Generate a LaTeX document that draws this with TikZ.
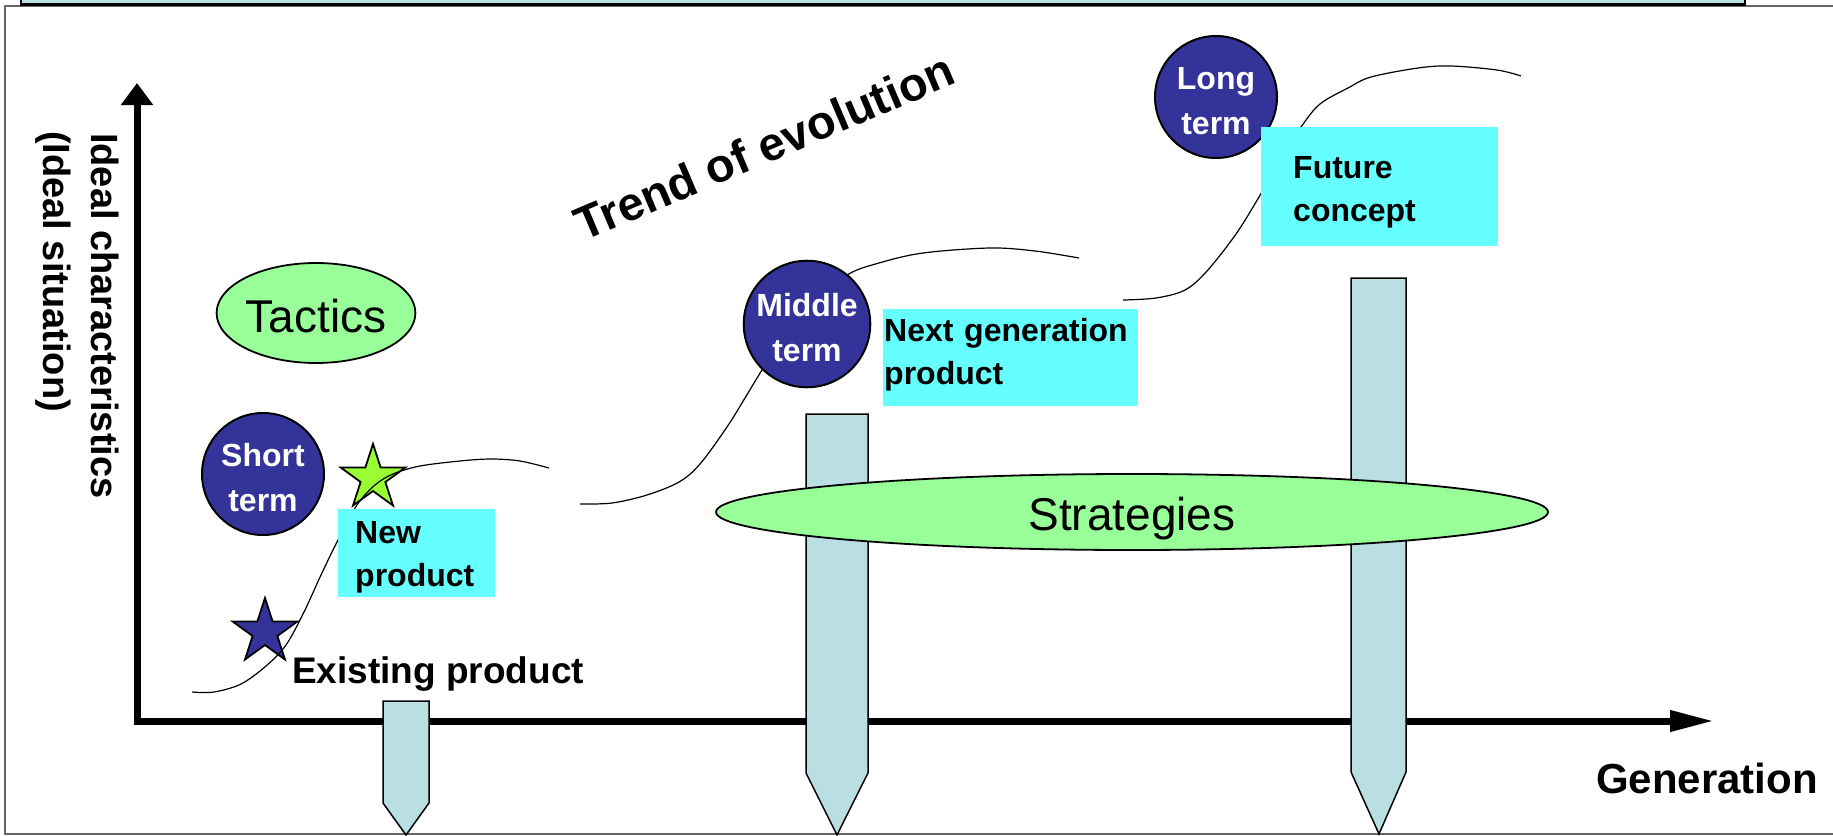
\documentclass[tikz,border=0pt]{standalone}
\usepackage{fontspec}
\setmainfont{Liberation Sans}
\usetikzlibrary{arrows.meta,shapes.geometric}
\definecolor{bandblue}{HTML}{B9DFE3}
\definecolor{lightgreen}{HTML}{99FF99}
\definecolor{navyfill}{HTML}{333399}
\definecolor{cyanfill}{HTML}{66FFFF}
\definecolor{limefill}{HTML}{99FF33}
\definecolor{framegray}{HTML}{666666}
\begin{document}
\begin{tikzpicture}[x=1pt,y=-1pt,
  pillar/.style={fill=bandblue, draw=black, line width=1.5pt, line join=miter},
  greenoval/.style={ellipse, draw=black, line width=1.8pt, fill=lightgreen, inner sep=0pt, text depth=0pt},
  termcircle/.style={circle, draw=black, line width=2pt, fill=navyfill, minimum size=122pt, inner sep=0pt, text=white, align=center, font=\fontsize{32}{45}\selectfont\bfseries},
  productbox/.style={fill=cyanfill, anchor=north west, align=left, inner ysep=0pt, font=\fontsize{32}{43}\selectfont\bfseries},
  trendline/.style={draw=black, line width=1.2pt},
  starpath/.style={draw=black, line width=1.8pt, line join=miter},
  axisline/.style={line width=7pt},
  label/.style={inner sep=0pt, anchor=base west}
]
\useasboundingbox (0,0) rectangle (1833,835);
% frame and top band
\draw[framegray, line width=1.5pt] (5,6) rectangle (1850,834);
\draw[fill=bandblue, line width=2.5pt] (21,-10) rectangle (1745,4.5);

% axes
\coordinate (origin) at (137,721);
\coordinate (ytip) at (137,83);
\coordinate (xtip) at (1714,721);
\draw[axisline, -{Triangle[length=22pt,width=31pt]}] (137,725) -- (ytip);
\draw[axisline, -{Triangle[length=44pt,width=20pt]}] (133.5,721) -- (xtip);

% pillars
\draw[pillar] (383,701) -- (429,701) -- (429,803) -- (406,835) -- (383,803) -- cycle;
\draw[pillar] (806,414) -- (868,414) -- (868,773) -- (837,835) -- (806,773) -- cycle;
\draw[pillar] (1351,278) -- (1406,278) -- (1406,772) -- (1379,834) -- (1351,772) -- cycle;

% ovals
\node[greenoval, minimum width=832pt, minimum height=76pt, text height=36pt, font=\fontsize{46}{50}\selectfont] (strategies) at (1132,512) {Strategies};
\node[greenoval, minimum width=198pt, minimum height=100pt, text height=38pt, font=\fontsize{46}{50}\selectfont] (tactics) at (316,313) {Tactics};

% stars
\draw[starpath, fill=navyfill] (265,632) +(-90:34) -- +(-54:13) -- +(-18:34) -- +(18:13) -- +(54:34) -- +(90:13) -- +(126:34) -- +(162:13) -- +(198:34) -- +(234:13) -- cycle;
\coordinate (existstar) at (265,632);
\draw[starpath, fill=limefill] (373,478) +(-90:34) -- +(-54:13) -- +(-18:34) -- +(18:13) -- +(54:34) -- +(90:13) -- +(126:34) -- +(162:13) -- +(198:34) -- +(234:13) -- cycle;
\coordinate (newstar) at (373,478);

% trend curves
\draw[trendline] plot[smooth, tension=0.55] coordinates {(192,692) (214,692) (241,684) (266,666) (286,645) (304,612) (321,575) (338,540) (357,505) (375,485) (393,474) (420,466) (460,461) (491,459) (520,461) (549,468)};
\draw[trendline] plot[smooth, tension=0.55] coordinates {(580,504) (612,503) (647,495) (679,482) (700,464) (727,427) (745,398) (762,370) (785,335) (810,305) (847,275) (879,263) (923,253) (990,248) (1035,251) (1079,258)};
\draw[trendline] plot[smooth, tension=0.55] coordinates {(1123,300) (1156,298) (1185,290) (1207,271) (1236,234) (1259,197) (1280,160) (1301,127) (1320,104) (1348,88) (1371,77) (1418,68) (1451,66) (1497,70) (1521,76)};

% term circles
\node[termcircle] (shortterm) at (263,474) {\rule{0pt}{31pt}Short\\term};
\node[termcircle] (middleterm) at (807,324) {\rule{0pt}{31pt}Middle\\term};
\node[termcircle] (longterm) at (1216,97) {\rule{0pt}{31pt}Long\\term};

% product boxes
\node[productbox, minimum height=88pt, inner xsep=17pt, text width=123pt] (newproduct) at (338,509) {\rule{0pt}{29.7pt}New\\product};
\node[productbox, minimum height=97pt, inner xsep=1pt, text width=253pt] (nextgen) at (883,309) {Next generation\\product\rule[-11.9pt]{0pt}{11.9pt}};
\node[productbox, minimum height=119pt, inner xsep=32pt, text width=173pt] (future) at (1261,127) {\rule{0pt}{32.9pt}Future\\concept};

% labels
\node[label, font=\fontsize{37}{40}\selectfont\bfseries] (existing) at (292,683) {Existing product};
\node[label, font=\fontsize{42}{46}\selectfont\bfseries] (generation) at (1596,793) {Generation};
\node[label, rotate=23, font=\fontsize{47}{50}\selectfont\bfseries] (trend) at (583,242) {Trend of evolution};
\node[label, rotate=-90, font=\fontsize{38}{44}\selectfont\bfseries] (ylabA) at (91,133) {Ideal characteristics};
\node[label, rotate=-90, font=\fontsize{38}{44}\selectfont\bfseries] (ylabB) at (43,131) {(Ideal situation)};
\end{tikzpicture}
\end{document}
